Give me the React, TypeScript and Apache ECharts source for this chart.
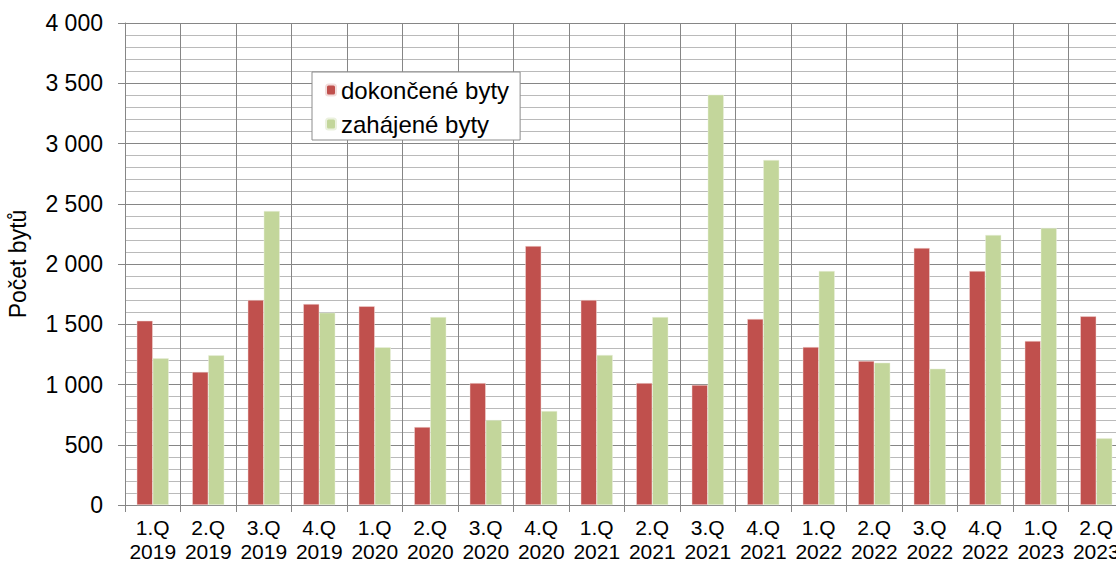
import React, { useEffect, useRef } from "react";
import * as echarts from "echarts";

const categories = [
  "1.Q\n2019", "2.Q\n2019", "3.Q\n2019", "4.Q\n2019",
  "1.Q\n2020", "2.Q\n2020", "3.Q\n2020", "4.Q\n2020",
  "1.Q\n2021", "2.Q\n2021", "3.Q\n2021", "4.Q\n2021",
  "1.Q\n2022", "2.Q\n2022", "3.Q\n2022", "4.Q\n2022",
  "1.Q\n2023", "2.Q\n2023",
];
const dokoncene = [1529, 1104, 1701, 1668, 1649, 647, 1012, 2149, 1701, 1012, 996, 1544, 1311, 1195, 2133, 1942, 1361, 1566];
const zahajene = [1217, 1242, 2440, 1596, 1309, 1560, 705, 780, 1245, 1560, 3405, 2863, 1942, 1181, 1131, 2241, 2299, 553];
const seriesNames = ["dokončené byty", "zahájené byty"];
const yAxisName = "Počet bytů";

const FONT = "'Liberation Sans', Arial, sans-serif";

export default function App() {
  const ref = useRef<HTMLDivElement>(null);
  useEffect(() => {
    if (!ref.current) return;
    const chart = echarts.init(ref.current, null, { renderer: "svg" });
    chart.setOption({
      animation: false,
      textStyle: { fontFamily: FONT },
      grid: { left: 125, top: 23, width: 999, bottom: 57, containLabel: false, outerBoundsMode: "none" },
      legend: {
        left: 312,
        top: 72,
        orient: "vertical",
        backgroundColor: "#ffffff",
        borderColor: "#8c8c8c",
        borderWidth: 1,
        padding: [6, 11, 4, 13],
        itemWidth: 10,
        itemHeight: 11,
        itemGap: 10,
        itemTextGap: 5,
        textStyle: { fontSize: 24, color: "#000", fontFamily: FONT },
        data: seriesNames,
      },
      xAxis: {
        type: "category",
        data: categories,
        boundaryGap: true,
        axisLine: { show: true, lineStyle: { color: "#868686", width: 1 } },
        axisTick: { show: true, interval: 0, length: 7, lineStyle: { color: "#868686" } },
        splitLine: { show: true, interval: 0, lineStyle: { color: "#868686", width: 1 } },
        axisLabel: {
          interval: 0,
          fontSize: 21,
          lineHeight: 24,
          color: "#000",
          margin: 10,
          fontFamily: FONT,
        },
      },
      yAxis: {
        type: "value",
        min: 0,
        max: 4000,
        interval: 500,
        name: yAxisName,
        nameLocation: "middle",
        nameGap: 96,
        nameRotate: 90,
        nameTextStyle: { fontSize: 23, color: "#000", fontFamily: FONT },
        axisLine: { show: true, lineStyle: { color: "#868686", width: 1 } },
        axisTick: { show: true, length: 7, lineStyle: { color: "#868686" } },
        axisLabel: {
          fontSize: 23,
          color: "#000",
          margin: 22,
          fontFamily: FONT,
          formatter: (v: number) => String(v).replace(/\B(?=(\d{3})+(?!\d))/g, " "),
        },
        splitLine: { show: true, lineStyle: { color: "#868686", width: 1 } },
        minorTick: { show: false, splitNumber: 5 },
        minorSplitLine: { show: true, lineStyle: { color: "#bababa", width: 1 } },
      },
      series: [
        {
          name: seriesNames[0],
          type: "bar",
          data: dokoncene,
          barWidth: 16,
          barGap: "0%",
          itemStyle: { color: "#C0504D", borderColor: "#f2dcdb", borderWidth: 0.5 },
        },
        {
          name: seriesNames[1],
          type: "bar",
          data: zahajene,
          barWidth: 16,
          barGap: "0%",
          itemStyle: { color: "#C3D69B", borderColor: "#ebf1de", borderWidth: 0.5 },
        },
      ],
    });
    return () => chart.dispose();
  }, []);
  return (
    <div
      style={{
        position: "fixed",
        left: 0,
        top: 0,
        width: 1116,
        height: 562,
        overflow: "hidden",
        background: "#fff",
      }}
    >
      <div ref={ref} style={{ width: 1140, height: 562 }} />
    </div>
  );
}
